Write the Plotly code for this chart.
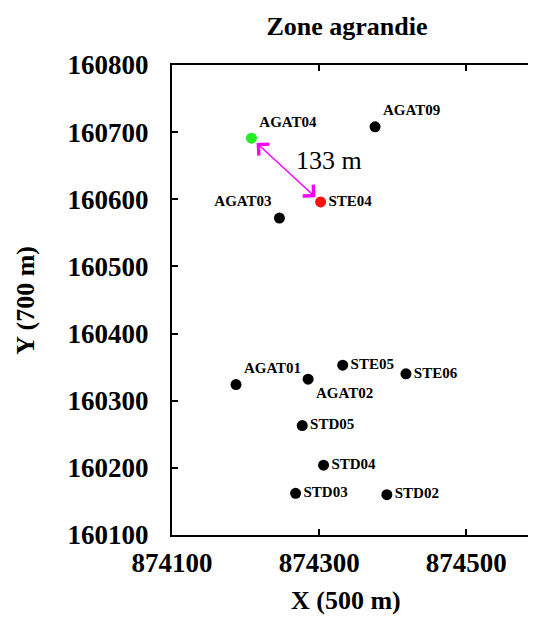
import plotly.graph_objects as go

names = ["AGAT04", "AGAT09", "STE04", "AGAT03", "AGAT01", "AGAT02",
         "STE05", "STE06", "STD05", "STD04", "STD03", "STD02"]
x_vals = [874208, 874376, 874302, 874246, 874187, 874285,
          874332, 874418, 874277, 874306, 874268, 874392]
y_vals = [160691, 160708, 160596, 160572, 160324, 160332,
          160353, 160340, 160263, 160204, 160162, 160160]
colors = ["#22ee22", "black", "#ff1010", "black", "black", "black",
          "black", "black", "black", "black", "black", "black"]
text_pos = ["top right", "top right", "middle right", "top left", "top right", "bottom right",
            "middle right", "middle right", "middle right", "middle right", "middle right", "middle right"]

x_ticks = [874100, 874300, 874500]
y_ticks = [160100, 160200, 160300, 160400, 160500, 160600, 160700, 160800]
x_range = [874100, 874592]
y_range = [160100, 160800]

dist_label = "133 m"
dist_label_pos = (874314, 160658)

FONT = "Liberation Serif, Times New Roman, serif"

# page body has an 8px default margin, so the figure is 8px smaller on each axis
W, H = 528, 609
L, T, B, R = 164, 57, 82, 0
PW, PH = W - L - R, H - T - B

fig = go.Figure()
fig.add_trace(go.Scatter(
    x=x_vals, y=y_vals, mode="markers+text",
    text=["<b>" + n + "</b>" for n in names],
    textposition=text_pos,
    textfont=dict(family=FONT, size=15, color="black"),
    marker=dict(size=11, color=colors, line=dict(width=0)),
    showlegend=False, cliponaxis=False,
))

# double-headed arrow between AGAT04 and STE04
i0, i1 = names.index("AGAT04"), names.index("STE04")
fig.add_annotation(
    x=x_vals[i1], y=y_vals[i1], ax=x_vals[i0], ay=y_vals[i0],
    xref="x", yref="y", axref="x", ayref="y",
    showarrow=True, text="", arrowside="end+start",
    arrowhead=4, startarrowhead=4, arrowsize=2.0, startarrowsize=2.0,
    arrowwidth=1.5, arrowcolor="#ff00ff", standoff=7, startstandoff=5,
)
fig.add_annotation(
    x=dist_label_pos[0], y=dist_label_pos[1], xref="x", yref="y",
    text=dist_label, showarrow=False,
    font=dict(family=FONT, size=26, color="black"),
)

axis_common = dict(
    showline=True, linewidth=2, linecolor="black", mirror="ticks",
    ticks="inside", ticklen=6, tickwidth=2, tickcolor="black",
    showgrid=False, zeroline=False,
    tickfont=dict(family=FONT, size=27, color="black"),
)

title_cx = (347 - 8 - L) / PW

fig.update_layout(
    width=W, height=H,
    margin=dict(l=L, r=R, t=T, b=B),
    paper_bgcolor="white", plot_bgcolor="white",
    font=dict(family=FONT, color="black"),
    title=dict(text="<b>Zone agrandie</b>", x=(347 - 8) / W, xref="container",
               xanchor="center", y=1 - (26 - 8) / H, yanchor="middle",
               font=dict(family=FONT, size=26, color="black")),
    xaxis=dict(range=x_range, tickvals=x_ticks, ticktext=[f"<b>{v}</b>" for v in x_ticks],
               ticklabelstandoff=3, **axis_common),
    yaxis=dict(range=y_range, tickvals=y_ticks, ticktext=[f"<b>{v}</b>" for v in y_ticks],
               ticklabelstandoff=16, **axis_common),
)
fig.add_annotation(text="<b>X (500 m)</b>", xref="paper", yref="paper",
                   x=title_cx, y=-(600 - 535) / PH, showarrow=False,
                   xanchor="center", yanchor="middle",
                   font=dict(family=FONT, size=26, color="black"))
fig.add_annotation(text="<b>Y (700 m)</b>", xref="paper", yref="paper",
                   x=-(172 - 24) / PW, y=0.5, showarrow=False, textangle=-90,
                   xanchor="center", yanchor="middle",
                   font=dict(family=FONT, size=26, color="black"))

fig.write_html("out.html")
